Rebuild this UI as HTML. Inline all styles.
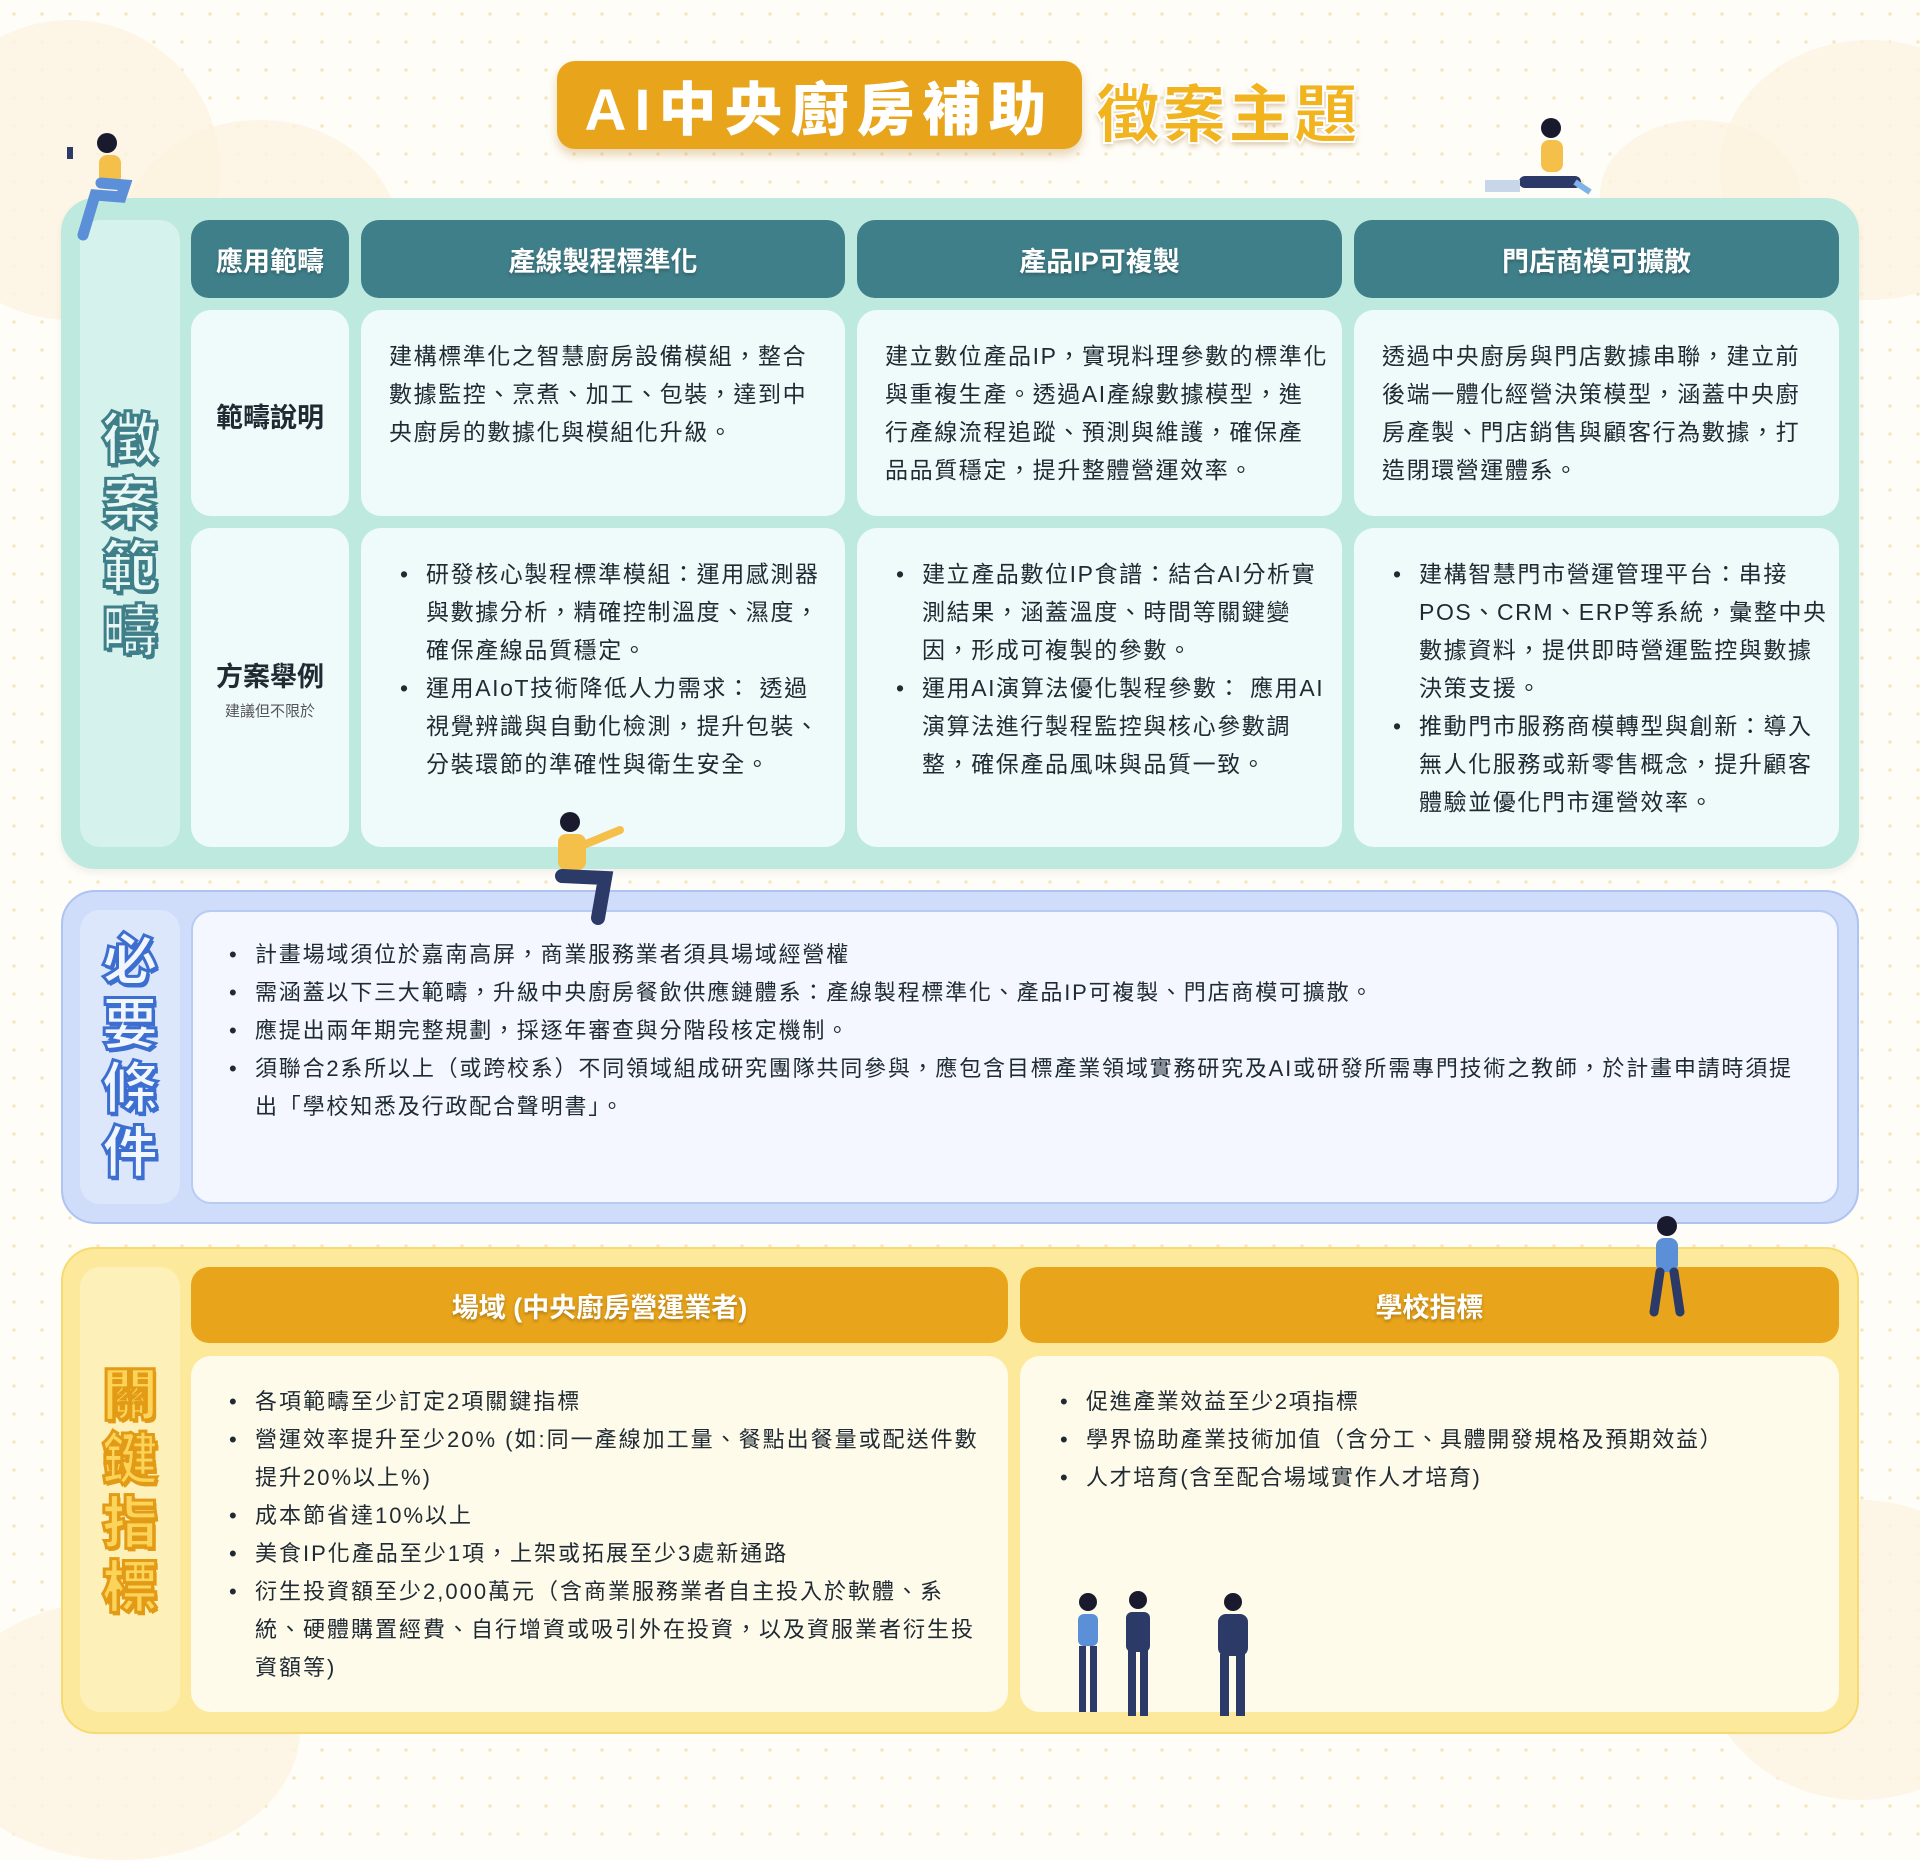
<!DOCTYPE html>
<html><head><meta charset="utf-8">
<style>
*{margin:0;padding:0;box-sizing:border-box}
body{width:1920px;height:1795px;position:relative;overflow:hidden;font-family:"Liberation Sans","Noto Sans CJK TC",sans-serif;
background-color:#fffdf8;background-image:radial-gradient(circle,#f6e6c4 1.6px,transparent 2px);background-size:28px 28px;}
.abs{position:absolute}
.cloud{position:absolute;border-radius:50%;background:#fdf3e0;opacity:.8}
.panel{position:absolute;border-radius:34px}
.cell{position:absolute;border-radius:20px}
.hd{position:absolute;border-radius:18px;color:#fff;font-weight:bold;font-size:27px;display:flex;align-items:center;justify-content:center;text-shadow:0 2px 3px rgba(0,0,0,.25)}
.tx{position:absolute;font-size:23px;line-height:38px;color:#1f2a33;white-space:nowrap;letter-spacing:1.6px}
.tx .b{position:relative;padding-left:26px;display:block}
.tx .b:before{content:"•";position:absolute;left:0}
.tx .c{display:block;padding-left:26px}
.vl{position:absolute;font-weight:900;font-size:56px;line-height:64px;width:60px;text-align:center}
.lbl{position:absolute;font-weight:bold;font-size:27px;color:#1f2a33;text-align:center}
</style></head><body>
<div class="cloud" style="left:-80px;top:20px;width:300px;height:300px"></div>
<div class="cloud" style="left:120px;top:120px;width:280px;height:240px"></div>
<div class="cloud" style="left:1720px;top:40px;width:300px;height:260px"></div>
<div class="cloud" style="left:1600px;top:120px;width:200px;height:150px"></div>
<div class="cloud" style="left:1700px;top:1500px;width:320px;height:300px"></div>
<div class="cloud" style="left:-60px;top:1600px;width:360px;height:260px"></div>

<!-- title -->
<div class="abs" style="left:557px;top:61px;width:525px;height:88px;background:#e8a41a;border-radius:18px;box-shadow:0 6px 10px rgba(180,120,20,.3);color:#fff;font-size:58px;font-weight:900;letter-spacing:8px;display:flex;align-items:center;justify-content:center">AI中央廚房補助</div>
<div class="abs" style="left:1096px;top:64px;font-size:64px;font-weight:900;color:#f2b41e;letter-spacing:2px;-webkit-text-stroke:2px #fff;text-shadow:0 3px 6px rgba(150,100,20,.4)">徵案主題</div>

<!-- teal panel -->
<div class="panel" style="left:61px;top:198px;width:1798px;height:671px;background:#bee9df;box-shadow:0 4px 8px rgba(0,0,0,.06)"></div>
<div class="cell" style="left:80px;top:220px;width:100px;height:627px;background:#d5f2ec"></div>
<div class="vl" style="left:100px;top:408px;color:#e8f8f5;-webkit-text-stroke:3px #3f7f8a;text-shadow:2px 3px 0 #3f7f8a">徵<br>案<br>範<br>疇</div>
<div class="hd" style="left:191px;top:220px;width:158px;height:78px;background:#3f7f8a">應用範疇</div>
<div class="hd" style="left:361px;top:220px;width:484px;height:78px;background:#3f7f8a">產線製程標準化</div>
<div class="hd" style="left:857px;top:220px;width:485px;height:78px;background:#3f7f8a">產品IP可複製</div>
<div class="hd" style="left:1354px;top:220px;width:485px;height:78px;background:#3f7f8a">門店商模可擴散</div>
<div class="cell" style="left:191px;top:310px;width:158px;height:206px;background:#effbfa"></div>
<div class="cell" style="left:361px;top:310px;width:484px;height:206px;background:#effbfa"></div>
<div class="cell" style="left:857px;top:310px;width:485px;height:206px;background:#effbfa"></div>
<div class="cell" style="left:1354px;top:310px;width:485px;height:206px;background:#effbfa"></div>
<div class="cell" style="left:191px;top:528px;width:158px;height:319px;background:#effbfa"></div>
<div class="cell" style="left:361px;top:528px;width:484px;height:319px;background:#effbfa"></div>
<div class="cell" style="left:857px;top:528px;width:485px;height:319px;background:#effbfa"></div>
<div class="cell" style="left:1354px;top:528px;width:485px;height:319px;background:#effbfa"></div>
<div class="lbl" style="left:191px;top:396px;width:158px">範疇說明</div>
<div class="lbl" style="left:191px;top:655px;width:158px">方案舉例</div>
<div class="abs" style="left:191px;top:700px;width:158px;text-align:center;font-size:15px;color:#555">建議但不限於</div>

<div class="tx" style="left:389px;top:337px">建構標準化之智慧廚房設備模組，整合<br>數據監控、烹煮、加工、包裝，達到中<br>央廚房的數據化與模組化升級。</div>
<div class="tx" style="left:885px;top:337px">建立數位產品IP，實現料理參數的標準化<br>與重複生產。透過AI產線數據模型，進<br>行產線流程追蹤、預測與維護，確保產<br>品品質穩定，提升整體營運效率。</div>
<div class="tx" style="left:1382px;top:337px">透過中央廚房與門店數據串聯，建立前<br>後端一體化經營決策模型，涵蓋中央廚<br>房產製、門店銷售與顧客行為數據，打<br>造閉環營運體系。</div>

<div class="tx" style="left:400px;top:555px"><span class="b">研發核心製程標準模組：運用感測器</span><span class="c">與數據分析，精確控制溫度、濕度，</span><span class="c">確保產線品質穩定。</span><span class="b">運用AIoT技術降低人力需求： 透過</span><span class="c">視覺辨識與自動化檢測，提升包裝、</span><span class="c">分裝環節的準確性與衛生安全。</span></div>
<div class="tx" style="left:896px;top:555px"><span class="b">建立產品數位IP食譜：結合AI分析實</span><span class="c">測結果，涵蓋溫度、時間等關鍵變</span><span class="c">因，形成可複製的參數。</span><span class="b">運用AI演算法優化製程參數： 應用AI</span><span class="c">演算法進行製程監控與核心參數調</span><span class="c">整，確保產品風味與品質一致。</span></div>
<div class="tx" style="left:1393px;top:555px"><span class="b">建構智慧門市營運管理平台：串接</span><span class="c">POS、CRM、ERP等系統，彙整中央</span><span class="c">數據資料，提供即時營運監控與數據</span><span class="c">決策支援。</span><span class="b">推動門市服務商模轉型與創新：導入</span><span class="c">無人化服務或新零售概念，提升顧客</span><span class="c">體驗並優化門市運營效率。</span></div>

<!-- blue panel -->
<div class="panel" style="left:61px;top:890px;width:1798px;height:334px;background:#cfdcfa;border:2px solid #adc3f2"></div>
<div class="cell" style="left:80px;top:910px;width:100px;height:294px;background:#dde7fc"></div>
<div class="vl" style="left:100px;top:929px;color:#f2f6ff;-webkit-text-stroke:3px #3d6fd0;text-shadow:2px 3px 0 #3d6fd0">必<br>要<br>條<br>件</div>
<div class="cell" style="left:191px;top:910px;width:1648px;height:294px;background:#f4f7ff;border:2px solid #b8cbf3"></div>
<div class="tx" style="left:229px;top:936px;font-size:22px;letter-spacing:1.8px"><span class="b">計畫場域須位於嘉南高屏，商業服務業者須具場域經營權</span><span class="b">需涵蓋以下三大範疇，升級中央廚房餐飲供應鏈體系：產線製程標準化、產品IP可複製、門店商模可擴散。</span><span class="b">應提出兩年期完整規劃，採逐年審查與分階段核定機制。</span><span class="b">須聯合2系所以上（或跨校系）不同領域組成研究團隊共同參與，應包含目標產業領域實務研究及AI或研發所需專門技術之教師，於計畫申請時須提</span><span class="c">出「學校知悉及行政配合聲明書」。</span></div>

<!-- yellow panel -->
<div class="panel" style="left:61px;top:1247px;width:1798px;height:487px;background:#fde99b;border:2px solid #f6da72"></div>
<div class="cell" style="left:80px;top:1267px;width:100px;height:445px;background:#fdf0b8"></div>
<div class="vl" style="left:100px;top:1364px;color:#fcd45a;-webkit-text-stroke:3px #e39a15;text-shadow:2px 3px 0 #e39a15">關<br>鍵<br>指<br>標</div>
<div class="hd" style="left:191px;top:1267px;width:817px;height:76px;background:#e8a41a">場域 (中央廚房營運業者)</div>
<div class="hd" style="left:1020px;top:1267px;width:819px;height:76px;background:#e8a41a">學校指標</div>
<div class="cell" style="left:191px;top:1356px;width:817px;height:356px;background:#fffbea"></div>
<div class="cell" style="left:1020px;top:1356px;width:819px;height:356px;background:#fffbea"></div>
<div class="tx" style="left:229px;top:1383px;font-size:22px;letter-spacing:2px"><span class="b">各項範疇至少訂定2項關鍵指標</span><span class="b">營運效率提升至少20% (如:同一產線加工量、餐點出餐量或配送件數</span><span class="c">提升20%以上%)</span><span class="b">成本節省達10%以上</span><span class="b">美食IP化產品至少1項，上架或拓展至少3處新通路</span><span class="b">衍生投資額至少2,000萬元（含商業服務業者自主投入於軟體、系</span><span class="c">統、硬體購置經費、自行增資或吸引外在投資，以及資服業者衍生投</span><span class="c">資額等)</span></div>
<div class="tx" style="left:1060px;top:1383px;font-size:22px;letter-spacing:1.6px"><span class="b">促進產業效益至少2項指標</span><span class="b">學界協助產業技術加值（含分工、具體開發規格及預期效益）</span><span class="b">人才培育(含至配合場域實作人才培育)</span></div>

<!-- figures -->
<svg class="abs" style="left:55px;top:125px" width="80" height="125"><circle cx="52" cy="18" r="10" fill="#1a1a2e"/><rect x="44" y="30" width="22" height="30" rx="8" fill="#f5c04a"/><path d="M46 58 L70 60 L66 72 L40 70 L28 110" stroke="#5b8fd8" stroke-width="11" fill="none" stroke-linecap="round"/><rect x="12" y="22" width="6" height="12" fill="#2b3a67"/></svg>
<svg class="abs" style="left:1475px;top:112px" width="120" height="90"><circle cx="76" cy="16" r="10" fill="#1a1a2e"/><rect x="66" y="28" width="22" height="32" rx="8" fill="#f5c04a"/><path d="M50 70 L100 70" stroke="#2b3a67" stroke-width="12" stroke-linecap="round"/><rect x="10" y="68" width="35" height="12" fill="#c8d6ea"/><path d="M100 70 L115 80" stroke="#7fb2e8" stroke-width="6"/></svg>
<svg class="abs" style="left:540px;top:808px" width="100" height="125"><circle cx="30" cy="14" r="10" fill="#1a1a2e"/><rect x="18" y="26" width="28" height="36" rx="8" fill="#f5c04a"/><path d="M46 36 L80 22" stroke="#f5c04a" stroke-width="8" stroke-linecap="round"/><path d="M22 68 L65 70 L58 110" stroke="#2b3a67" stroke-width="14" fill="none" stroke-linecap="round"/></svg>
<svg class="abs" style="left:1640px;top:1212px" width="55" height="115"><circle cx="27" cy="14" r="10" fill="#1a1a2e"/><rect x="16" y="26" width="22" height="34" rx="8" fill="#5b8fd8"/><path d="M20 60 L14 100 M34 60 L40 100" stroke="#2b3a67" stroke-width="9" stroke-linecap="round"/></svg>
<svg class="abs" style="left:1068px;top:1590px" width="200" height="135"><g fill="#2b3a67"><circle cx="20" cy="12" r="9" fill="#1a1a2e"/><rect x="10" y="24" width="20" height="32" rx="6" fill="#5b8fd8"/><rect x="11" y="56" width="7" height="66"/><rect x="22" y="56" width="7" height="66"/><circle cx="70" cy="10" r="9" fill="#1a1a2e"/><rect x="58" y="22" width="24" height="40" rx="6"/><rect x="60" y="60" width="8" height="66"/><rect x="72" y="60" width="8" height="66"/><circle cx="165" cy="12" r="9" fill="#1a1a2e"/><rect x="150" y="24" width="30" height="42" rx="8"/><rect x="152" y="64" width="9" height="62"/><rect x="168" y="64" width="9" height="62"/></g></svg>
</body></html>
